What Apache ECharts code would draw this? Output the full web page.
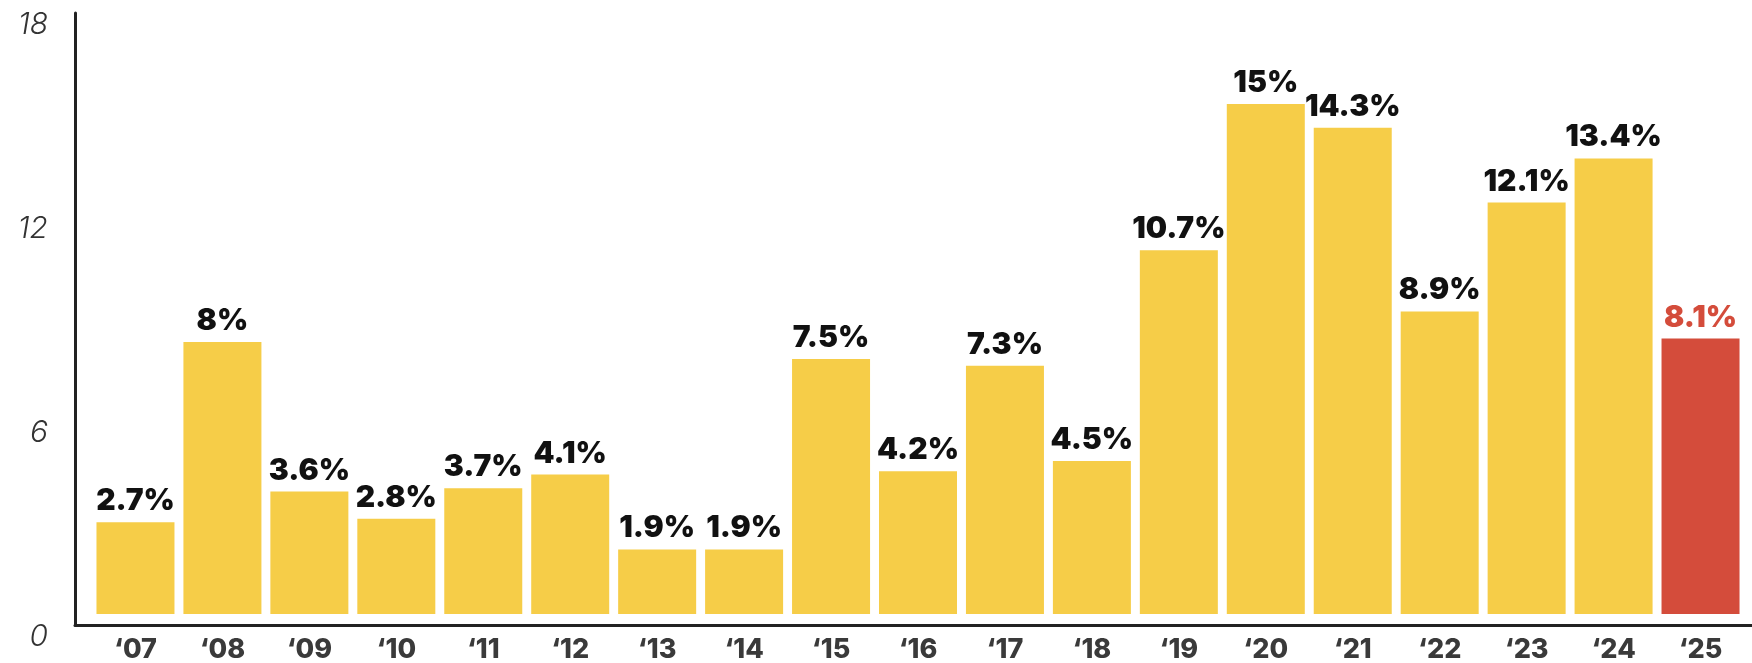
<!DOCTYPE html>
<html>
<head>
<meta charset="utf-8">
<script src="https://cdn.jsdelivr.net/npm/echarts@6/dist/echarts.min.js"></script>
<style>
  html, body { margin: 0; padding: 0; background: #fff; }
  #main { width: 1752px; height: 663px; }
</style>
</head>
<body>
<div id="main"></div>
<script>
var years = ['‘07','‘08','‘09','‘10','‘11','‘12','‘13','‘14','‘15','‘16','‘17','‘18','‘19','‘20','‘21','‘22','‘23','‘24','‘25'];
var rates = [2.7, 8, 3.6, 2.8, 3.7, 4.1, 1.9, 1.9, 7.5, 4.2, 7.3, 4.5, 10.7, 15, 14.3, 8.9, 12.1, 13.4, 8.1];
var yTicks = [0, 6, 12, 18];
var highlightYear = '‘25';

var yellow = '#F6CD48';
var red = '#D44C3B';

function BarsChart(){
  var barData = years.map(function (y, i) {
    var hot = y === highlightYear;
    return {
      value: rates[i],
      itemStyle: { color: hot ? red : yellow },
      label: { color: hot ? red : '#111' }
    };
  });

  var option = {
    animation: false,
    grid: [
      // bars
      { left: 92, right: 8, top: 2, bottom: 49, outerBoundsMode: 'none', containLabel: false },
      // frame lines (L shape)
      { left: 75, right: 0, top: 13, bottom: 38, outerBoundsMode: 'none', containLabel: false }
    ],
    xAxis: [
      {
        type: 'category',
        gridIndex: 0,
        data: years,
        axisLine: { show: false },
        axisTick: { show: false },
        axisLabel: {
          margin: 22,
          color: '#3a3a3a',
          fontFamily: 'Inter',
          fontWeight: 800,
          fontSize: 27
        }
      },
      {
        type: 'value',
        gridIndex: 1,
        min: 0, max: 1,
        axisLine: { show: true, lineStyle: { color: '#222', width: 3 } },
        axisTick: { show: false },
        axisLabel: { show: false },
        splitLine: { show: false }
      }
    ],
    yAxis: [
      {
        type: 'value',
        gridIndex: 0,
        min: yTicks[0],
        max: yTicks[yTicks.length - 1],
        interval: yTicks[1] - yTicks[0],
        axisLine: { show: false },
        axisTick: { show: false },
        splitLine: { show: false },
        axisLabel: {
          margin: 44,
          // labels sit a little below their ticks in the original
          formatter: function (v) { return '\n' + v; },
          lineHeight: 46,
          color: '#333',
          fontFamily: 'Inter',
          fontStyle: 'italic',
          fontWeight: 300,
          fontSize: 30
        }
      },
      {
        type: 'value',
        gridIndex: 1,
        min: 0, max: 1,
        axisLine: { show: true, lineStyle: { color: '#222', width: 3 } },
        axisTick: { show: false },
        axisLabel: { show: false },
        splitLine: { show: false }
      }
    ],
    series: [
      {
        type: 'bar',
        xAxisIndex: 0,
        yAxisIndex: 0,
        data: barData,
        barWidth: 78,
        label: {
          show: true,
          position: 'top',
          distance: 6,
          formatter: function (p) { return p.value + '%'; },
          fontFamily: 'Inter',
          fontWeight: 900,
          fontSize: 30
        }
      }
    ]
  };

  var myChart = echarts.init(document.getElementById('main'));
  myChart.setOption(option);

  window.addEventListener("resize", function(){
    myChart.resize();
  });
}

BarsChart();
</script>
</body>
</html>
